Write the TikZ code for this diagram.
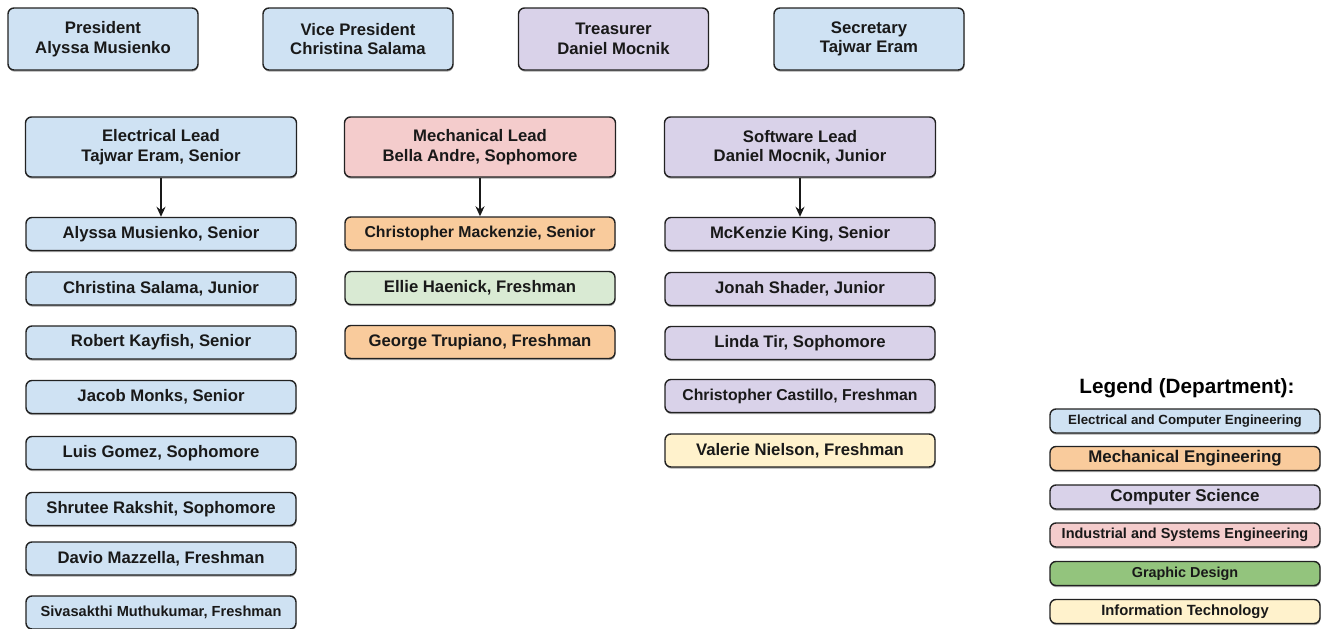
\documentclass[tikz,border=0pt]{standalone}
\usepackage{fontspec}
\setmainfont{Liberation Sans}
\usetikzlibrary{shadows,arrows.meta}
\definecolor{cBlue}{HTML}{CFE2F3}
\definecolor{cOrange}{HTML}{F9CB9C}
\definecolor{cPurple}{HTML}{D9D2E9}
\definecolor{cPink}{HTML}{F4CCCC}
\definecolor{cLGreen}{HTML}{D9EAD3}
\definecolor{cGreen}{HTML}{93C47D}
\definecolor{cYellow}{HTML}{FFF2CC}
\definecolor{cEdge}{HTML}{222222}
\newcommand{\fsz}[1]{\fontsize{#1}{19.5}\selectfont\bfseries}
\tikzset{
  box/.style={draw=cEdge, line width=1.4pt, rounded corners=6pt, inner sep=0pt,
    align=center, text=black!90,
    drop shadow={shadow xshift=0.4pt, shadow yshift=-1.6pt, opacity=0.35, fill=black},
    font=\fsz{16.7}},
  topbox/.style={box, minimum width=190pt, minimum height=62pt},
  leadbox/.style={box, minimum width=271pt, minimum height=60pt},
  membox/.style={box, minimum width=270pt, minimum height=33pt},
  legbox/.style={box, minimum width=270pt, minimum height=24pt},
  link/.style={draw=black!90, line width=1.8pt, -{Stealth[length=10pt,width=9pt]}}
}
\begin{document}
\begin{tikzpicture}[x=1pt,y=-1pt]
\useasboundingbox (0,0) rectangle (1323,629);
% top row
\node[topbox, fill=cBlue]   (pres) at (103,39)   {President\\Alyssa Musienko};
\node[topbox, fill=cBlue]   (vp)   at (358,39)   {Vice President\\Christina Salama};
\node[topbox, fill=cPurple] (tres) at (613.5,39) {Treasurer\\Daniel Mocnik};
\node[topbox, fill=cBlue]   (sec)  at (869,39)   {Secretary\\Tajwar Eram};
% leads
\node[leadbox, fill=cBlue]   (elec) at (161,147) {Electrical Lead\\Tajwar Eram, Senior};
\node[leadbox, fill=cPink]   (mech) at (480,147) {Mechanical Lead\\Bella Andre, Sophomore};
\node[leadbox, fill=cPurple] (soft) at (800,147) {Software Lead\\Daniel Mocnik, Junior};
% electrical members
\node[membox, fill=cBlue] (e1) at (161,234)   {Alyssa Musienko, Senior};
\node[membox, fill=cBlue] (e2) at (161,288.5) {Christina Salama, Junior};
\node[membox, fill=cBlue] (e3) at (161,342.5) {Robert Kayfish, Senior};
\node[membox, fill=cBlue] (e4) at (161,397)   {Jacob Monks, Senior};
\node[membox, fill=cBlue] (e5) at (161,453)   {Luis Gomez, Sophomore};
\node[membox, fill=cBlue] (e6) at (161,509)   {Shrutee Rakshit, Sophomore};
\node[membox, fill=cBlue] (e7) at (161,558.5) {Davio Mazzella, Freshman};
\node[membox, fill=cBlue, font=\fsz{14.6}] (e8) at (161,612.5) {Sivasakthi Muthukumar, Freshman};
% mechanical members
\node[membox, fill=cOrange, font=\fsz{15.8}] (m1) at (480,233.5) {Christopher Mackenzie, Senior};
\node[membox, fill=cLGreen] (m2) at (480,288)   {Ellie Haenick, Freshman};
\node[membox, fill=cOrange] (m3) at (480,342)   {George Trupiano, Freshman};
% software members
\node[membox, fill=cPurple] (s1) at (800,234)   {McKenzie King, Senior};
\node[membox, fill=cPurple] (s2) at (800,289)   {Jonah Shader, Junior};
\node[membox, fill=cPurple] (s3) at (800,343)   {Linda Tir, Sophomore};
\node[membox, fill=cPurple, font=\fsz{15.8}] (s4) at (800,396) {Christopher Castillo, Freshman};
\node[membox, fill=cYellow] (s5) at (800,450.5) {Valerie Nielson, Freshman};
% arrows
\draw[link] (elec.south) -- (e1.north);
\draw[link] (mech.south) -- (m1.north);
\draw[link] (soft.south) -- (s1.north);
% legend
\node[font=\fsz{20.7}, inner sep=0pt] (legt) at (1187,388) {Legend (Department):};
\node[legbox, fill=cBlue,   font=\fsz{13.3}] (l1) at (1185,421)   {Electrical and Computer Engineering};
\node[legbox, fill=cOrange, font=\fsz{16.9}] (l2) at (1185,458.5) {Mechanical Engineering};
\node[legbox, fill=cPurple, font=\fsz{17}]   (l3) at (1185,497)   {Computer Science};
\node[legbox, fill=cPink,   font=\fsz{14.5}] (l4) at (1185,535)   {Industrial and Systems Engineering};
\node[legbox, fill=cGreen,  font=\fsz{14.4}] (l5) at (1185,573.5) {Graphic Design};
\node[legbox, fill=cYellow, font=\fsz{14.8}] (l6) at (1185,611.5) {Information Technology};
\end{tikzpicture}
\end{document}
